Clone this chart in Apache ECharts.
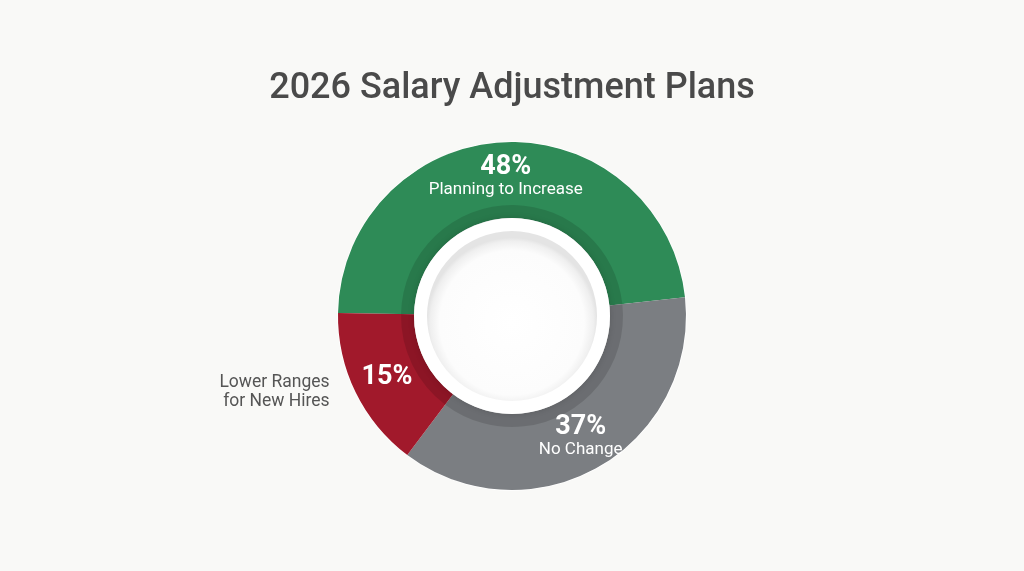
<!DOCTYPE html>
<html>
<head>
<meta charset="utf-8">
<style>
  html, body { margin: 0; padding: 0; background: #f9f9f7; }
  #chart { width: 1024px; height: 571px; }
</style>
<script src="https://cdn.jsdelivr.net/npm/echarts@6/dist/echarts.min.js"></script>
</head>
<body>
<div id="chart"></div>
<script>
// data
var titleText = '2026 Salary Adjustment Plans';
var categories = ['Planning to Increase', 'No Change', 'Lower Ranges\nfor New Hires'];
var values = [48, 37, 15];
var colors = ['#2e8b57', '#7b7e82', '#a1192b'];
// which slices carry their name inside the ring (the last one has it outside)
var nameInside = [true, true, false];

var center = ['50%', 316];
var startAngle = 179;

var pieData = categories.map(function (name, i) {
  return { name: name, value: values[i], itemStyle: { color: colors[i] } };
});

var myChart = echarts.init(document.getElementById('chart'));

var options = {
  backgroundColor: '#f9f9f7',
  title: {
    text: titleText,
    left: 'center',
    top: 66,
    textStyle: { fontFamily: 'Roboto', fontSize: 36, fontWeight: 500, color: '#4a4a4a' }
  },
  series: [
    {
      // main ring
      type: 'pie',
      center: center,
      radius: [98, 174],
      startAngle: startAngle,
      silent: true,
      itemStyle: { borderColor: '#ffffff', borderWidth: 1.5 },
      label: {
        show: true,
        position: 'inside',
        fontFamily: 'Roboto',
        formatter: function (p) {
          if (nameInside[p.dataIndex]) {
            return '{v|' + p.value + '%}\n{n|' + p.name + '}';
          }
          return '{v|' + p.value + '%}';
        },
        rich: {
          v: { fontFamily: 'Roboto', fontSize: 27, fontWeight: 'bold', color: '#ffffff', lineHeight: 25 },
          n: { fontFamily: 'Roboto', fontSize: 17, color: '#ffffff', lineHeight: 20 }
        }
      },
      labelLine: { show: false },
      data: pieData
    },
    {
      // outside name for slices that do not carry it inside
      type: 'pie',
      center: center,
      radius: [98, 174],
      startAngle: startAngle,
      silent: true,
      itemStyle: { color: 'rgba(0,0,0,0)' },
      label: {
        show: true,
        position: 'outside',
        fontFamily: 'Roboto',
        fontSize: 17.5,
        lineHeight: 19,
        color: '#555555',
        distanceToLabelLine: 4,
        formatter: function (p) {
          return nameInside[p.dataIndex] ? '' : p.name;
        }
      },
      labelLine: { show: false, length: 0, length2: 22 },
      data: pieData
    },
    {
      // darker inner band of the ring
      type: 'pie',
      center: center,
      radius: [97, 111],
      startAngle: startAngle,
      silent: true,
      label: { show: false },
      itemStyle: { color: 'rgba(0,0,0,0.13)' },
      data: values.map(function (v) { return { value: v }; })
    },
    {
      // white ring
      type: 'pie',
      center: center,
      radius: [0, 98],
      silent: true,
      label: { show: false },
      itemStyle: { color: '#ffffff', shadowBlur: 6, shadowColor: 'rgba(0,0,0,0.15)' },
      data: [{ value: 1 }]
    },
    {
      // inner disc with soft inset shading
      type: 'pie',
      center: center,
      radius: [0, 85],
      silent: true,
      label: { show: false },
      itemStyle: {
        color: {
          type: 'radial', x: 0.5, y: 0.54, r: 0.5,
          colorStops: [
            { offset: 0, color: '#ffffff' },
            { offset: 0.85, color: '#fcfcfc' },
            { offset: 0.96, color: '#efefef' },
            { offset: 1, color: '#e4e4e4' }
          ]
        }
      },
      data: [{ value: 1 }]
    }
  ]
};

myChart.setOption(options);
window.addEventListener('resize', function () { myChart.resize(); });
</script>
</body>
</html>
